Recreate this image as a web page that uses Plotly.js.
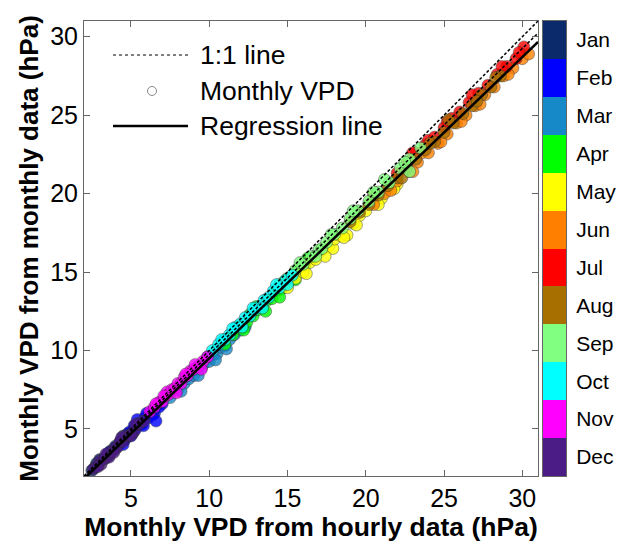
<!DOCTYPE html>
<html>
<head>
<meta charset="utf-8">
<script src="https://cdn.plot.ly/plotly-3.0.1.min.js"></script>
<style>
  html, body { margin: 0; padding: 0; background: #ffffff; }
  #chart { width: 621px; height: 542px; }
</style>
</head>
<body>
<div id="chart"></div>
<script>
// ---------- data ----------
const monthNames = ["Jan","Feb","Mar","Apr","May","Jun","Jul","Aug","Sep","Oct","Nov","Dec"];
const monthColors = ["#0b2a6b","#0000ff","#1689c9","#00ff00","#ffff00","#ff8000",
                     "#ff0000","#a66f00","#80ff80","#00ffff","#ff00ff","#4b1c85"];

const janX = [2.5, 2.7, 2.9, 3.2, 3.4, 3.5, 3.7, 3.9, 4.0, 4.2, 4.4, 4.6, 4.8, 5.0, 5.3, 5.6, 3.0, 3.6, 4.5, 5.1, 2.8];
const janY = [2.35, 2.55, 2.7, 3.05, 3.15, 3.4, 3.6, 3.65, 3.9, 3.95, 4.3, 4.35, 4.7, 4.75, 5.15, 5.3, 3.05, 3.3, 4.55, 4.7, 2.8];
const febX = [3.6, 4.0, 4.3, 4.6, 4.9, 5.1, 5.3, 5.4, 5.5, 5.7, 5.9, 6.0, 6.1, 6.3, 6.5, 6.7, 7.0, 4.5, 5.0, 5.8, 6.4, 6.8, 5.2, 6.6];
const febY = [3.5, 3.8, 4.15, 4.3, 4.8, 4.85, 5.0, 5.6, 5.35, 5.3, 5.75, 6.0, 5.7, 6.1, 6.0, 6.5, 6.6, 4.0, 4.55, 5.2, 5.9, 6.4, 5.2, 5.5];
const marX = [7.5, 8.0, 8.4, 8.7, 9.0, 9.2, 9.5, 9.7, 9.9, 10.0, 10.2, 10.5, 10.7, 10.9, 11.0, 11.3, 11.6, 12.0, 8.2, 9.3, 10.4, 11.1, 11.8, 12.3];
const marY = [7.0, 7.5, 7.9, 8.2, 8.4, 8.8, 8.9, 9.2, 9.6, 9.3, 9.7, 9.8, 10.2, 10.6, 10.3, 10.7, 11.0, 11.3, 7.4, 8.4, 9.4, 10.1, 11.4, 11.5];
const aprX = [11.0, 11.5, 12.0, 12.4, 12.8, 13.0, 13.1, 13.4, 13.7, 14.0, 14.3, 14.6, 14.8, 15.0, 15.3, 15.7, 16.1, 16.5, 12.2, 13.6, 14.5, 15.5, 16.3, 12.6];
const aprY = [10.4, 11.0, 11.6, 11.8, 12.2, 12.8, 12.6, 12.7, 13.2, 13.3, 13.8, 13.9, 14.4, 14.4, 14.6, 15.2, 15.4, 15.9, 11.3, 12.5, 13.4, 14.5, 15.9, 12.3];
const mayX = [15.0, 15.5, 16.0, 16.4, 16.8, 17.2, 17.6, 17.9, 18.0, 18.4, 18.8, 19.2, 19.6, 20.0, 20.5, 21.0, 21.5, 22.0, 16.2, 17.4, 18.6, 19.4, 20.8, 21.8];
const mayY = [14.0, 14.6, 15.0, 15.6, 15.8, 16.4, 16.6, 16.5, 17.1, 17.3, 17.35, 18.1, 18.6, 18.9, 19.5, 19.7, 20.4, 20.6, 14.9, 16.0, 17.2, 18.0, 19.3, 20.3];
const junX = [20.5, 21.2, 22.0, 22.7, 23.3, 23.6, 24.0, 24.6, 25.2, 25.8, 26.4, 27.0, 27.6, 28.2, 28.8, 29.4, 30.0, 30.4, 21.6, 23.0, 24.8, 26.1, 27.3, 29.1, 25.5];
const junY = [19.3, 20.0, 20.8, 21.4, 22.0, 22.6, 22.6, 23.2, 23.8, 24.5, 25.0, 25.6, 26.3, 26.8, 27.5, 28.0, 28.6, 28.9, 20.2, 21.4, 23.3, 24.6, 25.7, 27.6, 24.6];
const julX = [22.0, 22.6, 23.2, 23.8, 24.0, 24.4, 25.0, 25.5, 26.0, 26.6, 27.2, 27.8, 28.4, 29.0, 29.6, 30.1, 23.0, 25.2, 26.8, 28.7, 29.8];
const julY = [21.3, 21.9, 22.6, 23.1, 23.4, 23.6, 24.2, 24.8, 25.2, 25.8, 26.4, 26.9, 27.6, 28.1, 28.6, 29.35, 22.6, 24.6, 26.3, 28.1, 29.0];
const augX = [19.0, 19.6, 20.2, 20.8, 21.4, 22.0, 22.6, 23.2, 23.8, 24.4, 25.0, 25.6, 26.2, 26.8, 27.4, 28.0, 28.6, 20.5, 22.3, 24.1, 25.3, 27.1, 28.3];
const augY = [18.2, 18.8, 19.3, 19.9, 20.5, 21.0, 21.6, 22.2, 22.8, 23.3, 23.9, 24.5, 25.1, 25.6, 26.3, 26.8, 27.5, 19.9, 21.0, 23.2, 24.7, 25.9, 27.4];
const sepX = [14.5, 15.0, 15.5, 16.0, 16.5, 17.0, 17.2, 17.5, 18.0, 18.5, 19.0, 19.5, 20.2, 20.8, 21.5, 22.2, 22.8, 22.8, 23.5, 15.8, 17.8, 19.2, 20.5, 21.2, 16.8, 22.5];
const sepY = [14.2, 14.6, 15.1, 15.5, 16.0, 16.4, 16.5, 16.9, 17.4, 17.8, 18.4, 18.9, 19.5, 20.1, 20.7, 21.6, 22.2, 21.4, 22.9, 15.6, 17.4, 18.9, 20.1, 20.9, 16.0, 22.0];
const octX = [10.2, 10.6, 11.0, 11.3, 11.7, 12.0, 12.1, 12.3, 12.6, 12.9, 13.2, 13.5, 13.8, 14.1, 14.5, 14.9, 15.3, 10.8, 11.5, 12.8, 13.4, 14.3, 15.0];
const octY = [10.0, 10.4, 10.7, 11.0, 11.5, 11.7, 11.5, 12.1, 12.2, 12.6, 12.8, 13.2, 13.4, 13.8, 14.0, 14.5, 14.8, 10.7, 11.4, 12.7, 12.7, 14.2, 14.2];
const novX = [6.2, 6.5, 6.8, 7.0, 7.2, 7.3, 7.4, 7.6, 7.8, 8.0, 8.2, 8.4, 8.6, 8.8, 9.0, 9.3, 9.6, 9.9, 6.6, 7.1, 7.9, 8.5, 9.1, 9.5];
const novY = [6.1, 6.4, 6.7, 6.75, 7.1, 7.35, 7.2, 7.5, 7.6, 7.9, 7.9, 8.3, 8.4, 8.7, 8.8, 9.0, 9.3, 9.6, 6.6, 7.1, 7.3, 8.5, 9.1, 8.8];
const decX = [2.6, 2.8, 3.0, 3.1, 3.3, 3.5, 3.6, 3.8, 4.0, 4.1, 4.3, 4.5, 4.7, 4.9, 5.2, 5.5, 5.8, 2.9, 3.4, 3.9, 4.4, 5.0, 5.3];
const decY = [2.45, 2.6, 2.95, 2.75, 3.1, 3.3, 3.2, 3.6, 3.75, 3.8, 4.2, 4.2, 4.55, 4.6, 4.85, 5.3, 5.5, 2.6, 3.4, 3.5, 4.45, 4.6, 5.3];

const lineX = [2, 31];                        // extent of reference lines
const regSlope = 0.96, regIntercept = -0.1;   // regression fit
const refSlope2 = 0.975;                      // second dashed reference

const tickVals = [5, 10, 15, 20, 25, 30];
const axisRange = [2, 31];

// ---------- traces ----------
const monthX = [janX, febX, marX, aprX, mayX, junX, julX, augX, sepX, octX, novX, decX];
const monthY = [janY, febY, marY, aprY, mayY, junY, julY, augY, sepY, octY, novY, decY];

const traces = [];
monthNames.forEach((m, i) => {
  traces.push({
    type: "scatter", mode: "markers", name: m,
    x: monthX[i], y: monthY[i], xaxis: "x", yaxis: "y",
    marker: { color: monthColors[i], size: 12, opacity: 0.8,
              line: { color: "rgba(50,50,50,0.7)", width: 0.8 } },
    showlegend: false, hoverinfo: "x+y+name"
  });
});

traces.push({
  type: "scatter", mode: "lines", name: "1:1 line",
  x: lineX, y: lineX, xaxis: "x", yaxis: "y",
  line: { color: "#000", width: 1.5, dash: "3px,2px" }, showlegend: false
});
traces.push({
  type: "scatter", mode: "lines", name: "reference",
  x: lineX, y: lineX.map(v => refSlope2 * v), xaxis: "x", yaxis: "y",
  line: { color: "#000", width: 1.5, dash: "3px,2px" }, showlegend: false
});
traces.push({
  type: "scatter", mode: "lines", name: "Regression line",
  x: lineX, y: lineX.map(v => regIntercept + regSlope * v), xaxis: "x", yaxis: "y",
  line: { color: "#000", width: 2.5 }, showlegend: false
});

// discrete month colour bar
const cs = monthColors.map((c, i) => [i / (monthColors.length - 1), c]);
traces.push({
  type: "heatmap", x: [0], y: monthNames,
  z: monthNames.map((m, i) => [i]), zmin: 0, zmax: monthNames.length - 1,
  colorscale: cs, showscale: false, xaxis: "x2", yaxis: "y2", hoverinfo: "y"
});

// ---------- layout ----------
const FONT = "Liberation Sans, Arial, Helvetica, sans-serif";
const legY = [0.9253, 0.8462, 0.7692];
const legX0 = 0.0602, legX1 = 0.2158, legTx = 0.2365, legCx = 0.1411;

const layout = {
  width: 621, height: 542,
  margin: { l: 84, r: 55, t: 21, b: 66, pad: 0 },
  paper_bgcolor: "#fff", plot_bgcolor: "#fff",
  font: { family: FONT, color: "#000" },
  showlegend: false,
  xaxis: {
    domain: [0, 0.9419], range: axisRange, tickvals: tickVals,
    ticks: "inside", ticklen: 6, tickcolor: "#666", mirror: "ticks",
    showline: true, linecolor: "#666", linewidth: 1,
    showgrid: false, zeroline: false, anchor: "y",
    tickfont: { size: 25, family: FONT },
    title: { text: "Monthly VPD from hourly data (hPa)", standoff: 2,
             font: { size: 26.5, family: FONT, weight: 700 } }
  },
  yaxis: {
    domain: [0, 1], range: axisRange, tickvals: tickVals,
    ticks: "inside", ticklen: 6, tickcolor: "#666", mirror: "ticks",
    showline: true, linecolor: "#666", linewidth: 1,
    showgrid: false, zeroline: false, anchor: "x",
    tickfont: { size: 25, family: FONT },
    title: { text: "Monthly VPD from monthly data (hPa)", standoff: 4,
             font: { size: 26, family: FONT, weight: 700 } }
  },
  xaxis2: {
    domain: [0.9523, 1], range: [-0.5, 0.5], anchor: "y2",
    showticklabels: false, ticks: "", showgrid: false, zeroline: false,
    showline: true, mirror: true, linecolor: "#666", linewidth: 1
  },
  yaxis2: {
    domain: [0, 1], anchor: "x2", side: "right", type: "category",
    autorange: "reversed", ticks: "", ticklabelstandoff: 5,
    showgrid: false, zeroline: false,
    showline: true, mirror: true, linecolor: "#666", linewidth: 1,
    tickfont: { size: 21, family: FONT }
  },
  shapes: [
    { type: "line", xref: "paper", yref: "paper", x0: legX0, x1: legX1, y0: legY[0], y1: legY[0],
      line: { color: "#000", width: 1.2, dash: "dot" } },
    { type: "circle", xref: "paper", yref: "paper", xsizemode: "pixel", ysizemode: "pixel",
      xanchor: legCx, yanchor: legY[1], x0: -4.5, x1: 4.5, y0: -4.5, y1: 4.5,
      line: { color: "#888", width: 1 } },
    { type: "line", xref: "paper", yref: "paper", x0: legX0, x1: legX1, y0: legY[2], y1: legY[2],
      line: { color: "#000", width: 2.5 } }
  ],
  annotations: [
    { text: "1:1 line", xref: "paper", yref: "paper", x: legTx, y: legY[0],
      xanchor: "left", yanchor: "middle", showarrow: false, font: { size: 26.5, family: FONT } },
    { text: "Monthly VPD", xref: "paper", yref: "paper", x: legTx, y: legY[1],
      xanchor: "left", yanchor: "middle", showarrow: false, font: { size: 26.5, family: FONT } },
    { text: "Regression line", xref: "paper", yref: "paper", x: legTx, y: legY[2],
      xanchor: "left", yanchor: "middle", showarrow: false, font: { size: 26.5, family: FONT } }
  ]
};

Plotly.newPlot("chart", traces, layout, { displayModeBar: false, staticPlot: true });
</script>
</body>
</html>
